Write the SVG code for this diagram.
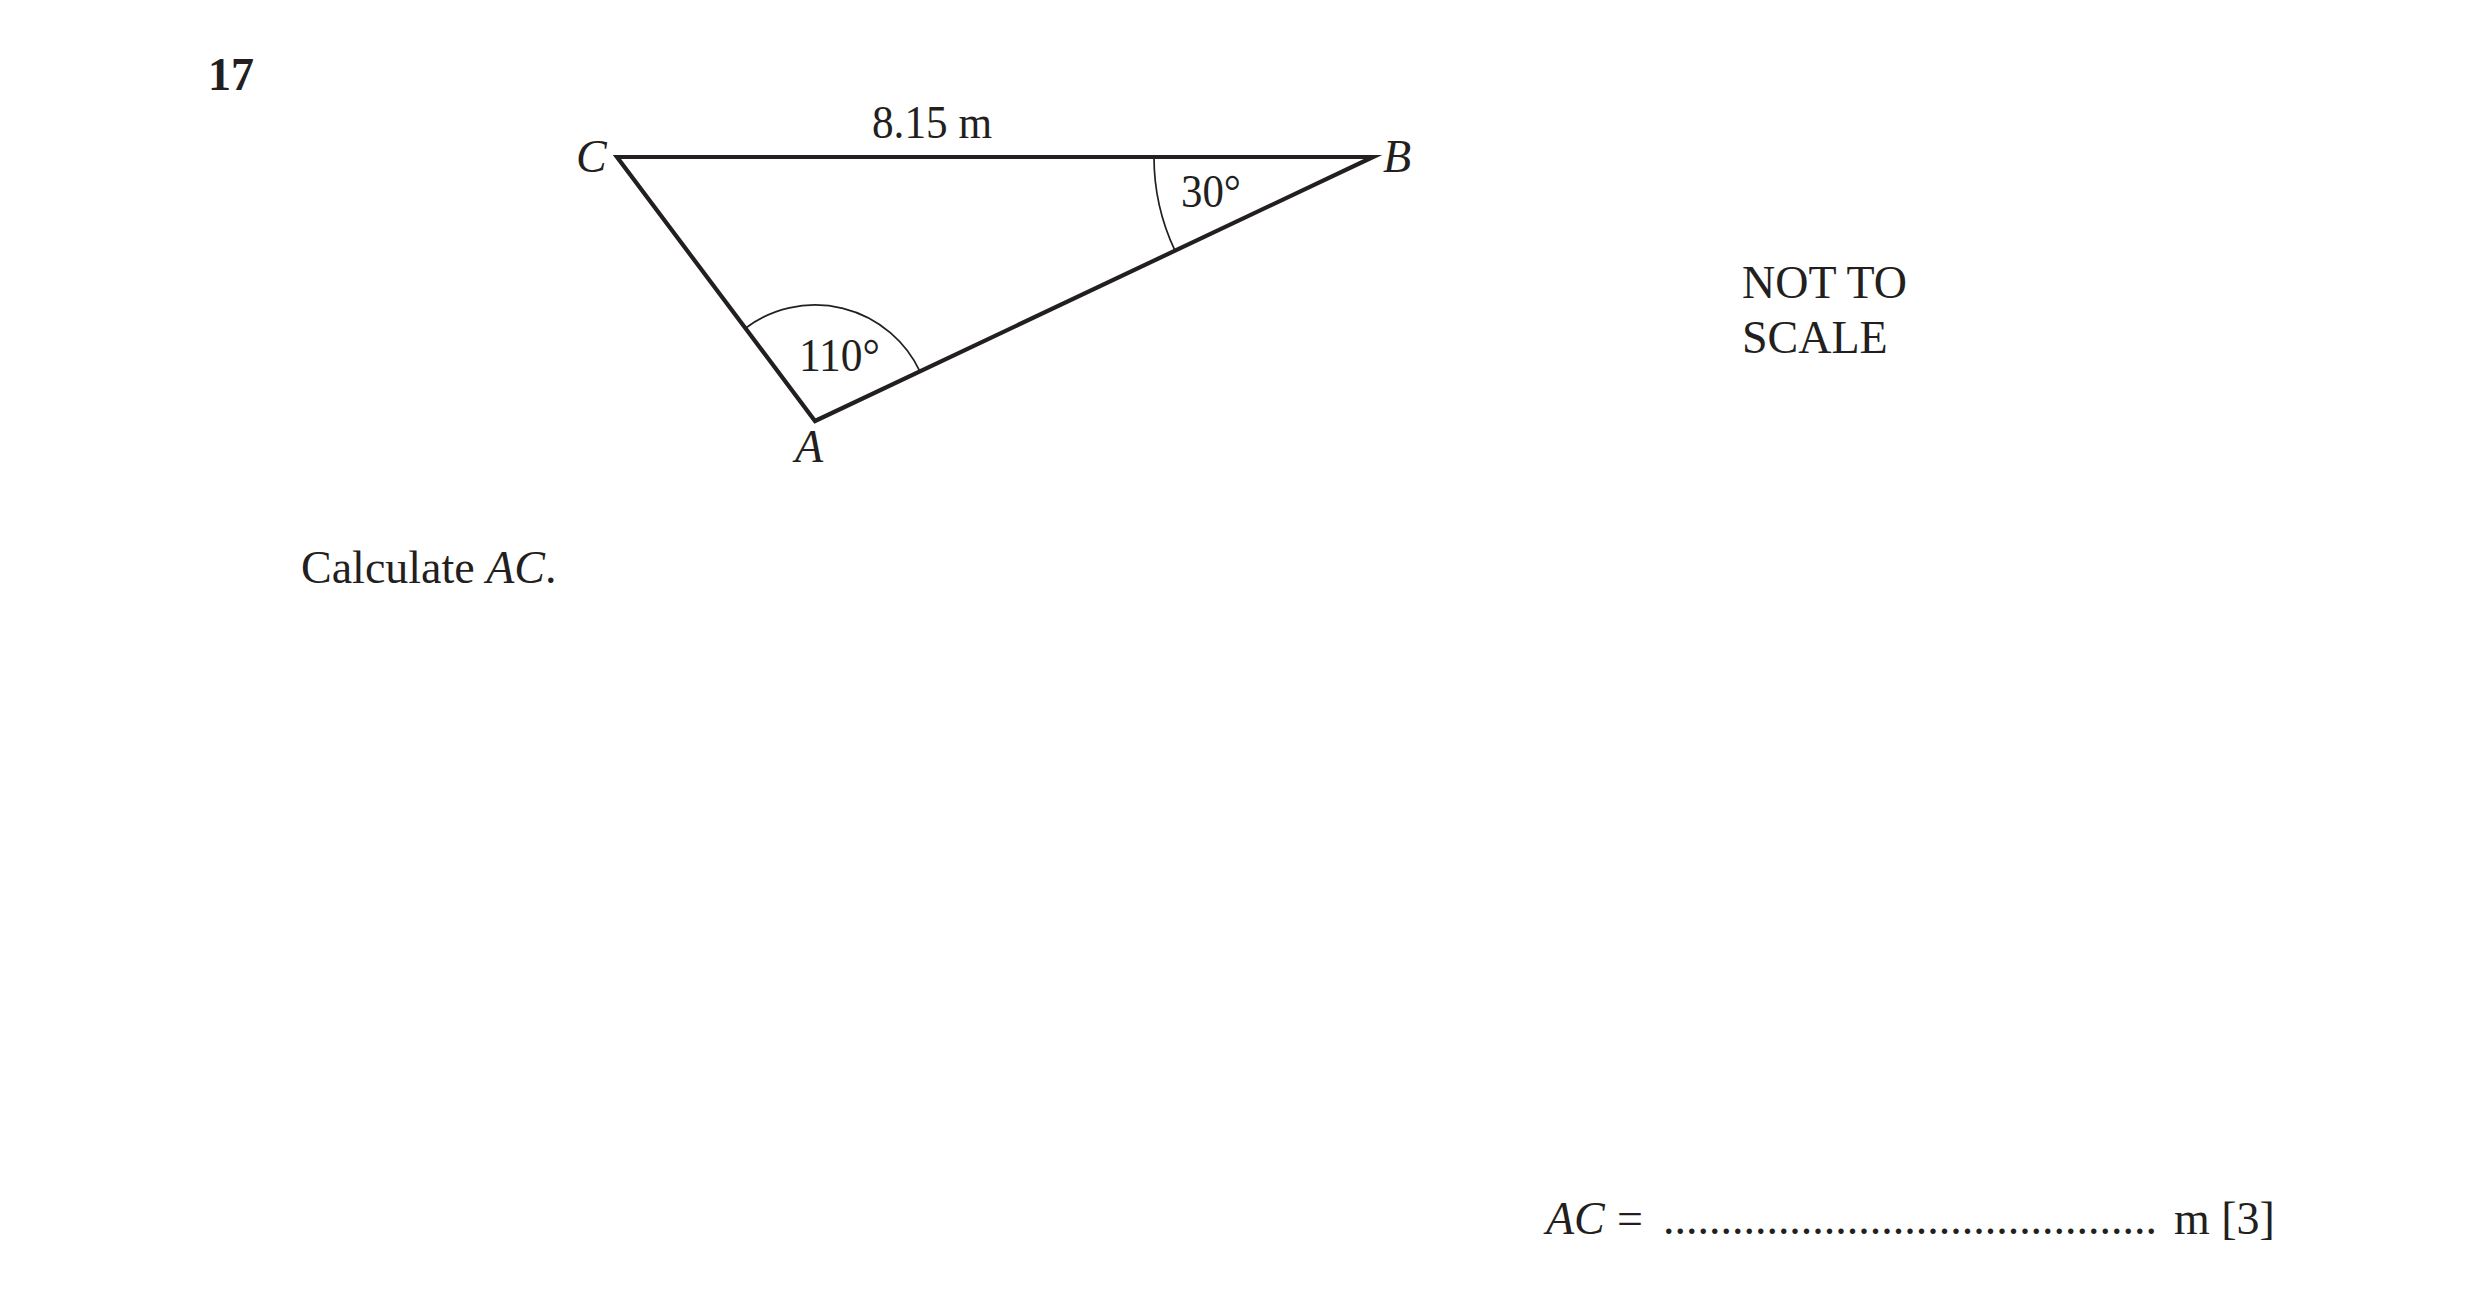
<svg xmlns="http://www.w3.org/2000/svg" width="2481" height="1298" viewBox="0 0 2481 1298">
  <style>
    text { font-family: "Liberation Serif", "Times New Roman", serif; font-size: 46px; fill: #231f20; }
    .b { font-weight: bold; }
    .i { font-style: italic; }
    .edge { fill: none; stroke: #231f20; stroke-width: 4.2; stroke-linejoin: miter; stroke-miterlimit: 10; }
    .arc { fill: none; stroke: #231f20; stroke-width: 1.7; }
  </style>
  <rect x="0" y="0" width="2481" height="1298" fill="#ffffff"/>

  <text id="qnum" class="b" x="208" y="90">17</text>

  <g id="triangle">
    <polygon class="edge" points="617,157 1373,157 815,421"/>
  </g>

  <g id="angles">
    <path id="angle-A" class="arc" d="M 745.4 328.2 A 116 116 0 0 1 919.9 371.4"/>
    <path id="angle-B" class="arc" d="M 1154 157 A 219 219 0 0 0 1175 250.7"/>
  </g>

  <g id="labels">
    <text id="label-C" class="i" x="576" y="172">C</text>
    <text id="label-B" class="i" x="1383" y="172">B</text>
    <text id="label-A" class="i" x="795" y="462">A</text>
    <text id="label-CB" x="872" y="138" textLength="120" lengthAdjust="spacingAndGlyphs">8.15 m</text>
    <text id="label-30" x="1181" y="207" textLength="60" lengthAdjust="spacingAndGlyphs">30°</text>
    <text id="label-110" x="799" y="371" textLength="81" lengthAdjust="spacingAndGlyphs">110°</text>
  </g>

  <g id="not-to-scale">
    <text x="1742" y="298">NOT TO</text>
    <text x="1742" y="353">SCALE</text>
  </g>

  <text id="question" x="301" y="583">Calculate <tspan class="i">AC</tspan>.</text>

  <g id="answer">
    <text class="i" x="1546" y="1234">AC</text>
    <text x="1617" y="1234">=</text>
    <text x="1663" y="1234" textLength="494" lengthAdjust="spacing">...........................................</text>
    <text x="2174" y="1234">m [3]</text>
  </g>
</svg>
